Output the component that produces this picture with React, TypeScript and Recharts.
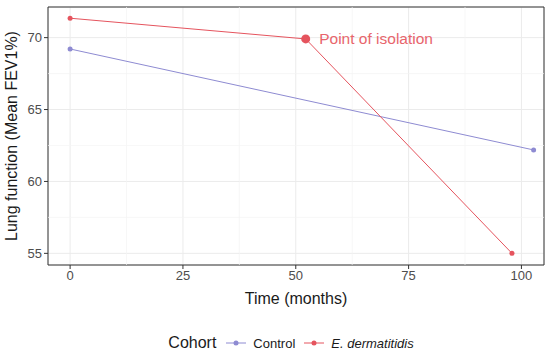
import {
  ComposedChart,
  Line,
  XAxis,
  YAxis,
  CartesianGrid,
  ReferenceLine,
  ReferenceArea,
  ReferenceDot,
  Legend
} from "recharts";

const controlSeries = [
  { x: 0, y: 69.21 },
  { x: 102.7, y: 62.19 }
];

const dermatitidisSeries = [
  { x: 0, y: 71.35 },
  { x: 52.2, y: 69.91 },
  { x: 97.9, y: 55.0 }
];

const isolationPoint = { x: 52.2, y: 69.91, label: "Point of isolation" };

const xTicks = [0, 25, 50, 75, 100];
const yTicks = [55, 60, 65, 70];
const xMinor = [12.5, 37.5, 62.5, 87.5];
const yMinor = [57.5, 62.5, 67.5];
const xDomain = [-4.9, 105];
const yDomain = [54.19, 72.13];

const seriesNames = ["Control", "E. dermatitidis"];
const PURPLE = "#8E8BD2";
const RED = "#E5545E";
const FONT = "'Liberation Sans', Arial, sans-serif";

function CohortLegend() {
  const colors = [PURPLE, RED];
  return (
    <div
      style={{
        display: "flex",
        justifyContent: "center",
        alignItems: "center",
        fontFamily: FONT,
        color: "#1a1a1a",
        paddingTop: 19,
        marginLeft: 38
      }}
    >
      <span style={{ fontSize: 16, marginRight: 9 }}>Cohort</span>
      {seriesNames.map((name, i) => (
        <span key={name} style={{ display: "flex", alignItems: "center", marginRight: 8 }}>
          <svg width={22} height={10}>
            <line x1={1} y1={5} x2={21} y2={5} stroke={colors[i]} strokeWidth={1} />
            <circle cx={11} cy={5} r={2.5} fill={colors[i]} />
          </svg>
          <span style={{ fontSize: 13, marginLeft: 6, fontStyle: i === 1 ? "italic" : "normal" }}>
            {name}
          </span>
        </span>
      ))}
    </div>
  );
}

export default function App() {
  return (
    <div style={{ position: "absolute", left: 0, top: 0, background: "#fff" }}>
      <ComposedChart
        width={550}
        height={355}
        margin={{ top: 7, right: 6, bottom: 0, left: 8 }}
      >
        <CartesianGrid stroke="#EBEBEB" strokeWidth={1} />
        {xMinor.map(v => (
          <ReferenceLine key={"vx" + v} x={v} stroke="#F3F3F3" strokeWidth={0.7} />
        ))}
        {yMinor.map(v => (
          <ReferenceLine key={"hy" + v} y={v} stroke="#F3F3F3" strokeWidth={0.7} />
        ))}
        <XAxis
          type="number"
          dataKey="x"
          domain={xDomain}
          ticks={xTicks}
          allowDataOverflow
          height={50}
          axisLine={false}
          tickSize={4}
          tickLine={{ stroke: "#333333" }}
          tick={{ fill: "#4D4D4D", fontSize: 13, fontFamily: FONT }}
          label={{
            value: "Time (months)",
            position: "insideBottom",
            offset: 11,
            fill: "#1a1a1a",
            fontSize: 16,
            fontFamily: FONT
          }}
        />
        <YAxis
          type="number"
          domain={yDomain}
          ticks={yTicks}
          allowDataOverflow
          width={40}
          axisLine={false}
          tickSize={4}
          tickLine={{ stroke: "#333333" }}
          tick={{ fill: "#4D4D4D", fontSize: 13, fontFamily: FONT }}
          label={{
            value: "Lung function (Mean FEV1%)",
            angle: -90,
            position: "insideLeft",
            offset: 3,
            fill: "#1a1a1a",
            fontSize: 16,
            fontFamily: FONT,
            style: { textAnchor: "middle" }
          }}
        />
        <ReferenceArea
          x1={xDomain[0]}
          x2={xDomain[1]}
          y1={yDomain[0]}
          y2={yDomain[1]}
          fill="none"
          stroke="#333333"
          strokeWidth={1}
          ifOverflow="visible"
        />
        <Line
          data={controlSeries}
          dataKey="y"
          name={seriesNames[0]}
          type="linear"
          stroke={PURPLE}
          strokeWidth={1}
          dot={{ r: 2.5, fill: PURPLE, stroke: "none" }}
          isAnimationActive={false}
        />
        <Line
          data={dermatitidisSeries}
          dataKey="y"
          name={seriesNames[1]}
          type="linear"
          stroke={RED}
          strokeWidth={1}
          dot={{ r: 2.5, fill: RED, stroke: "none" }}
          isAnimationActive={false}
        />
        <ReferenceDot
          x={isolationPoint.x}
          y={isolationPoint.y}
          r={4.5}
          fill={RED}
          stroke="none"
          label={{
            value: isolationPoint.label,
            position: "right",
            offset: 9,
            fill: "#E8656C",
            fontSize: 15.5,
            fontFamily: FONT
          }}
        />
        <Legend verticalAlign="bottom" height={40} content={() => <CohortLegend />} />
      </ComposedChart>
    </div>
  );
}
